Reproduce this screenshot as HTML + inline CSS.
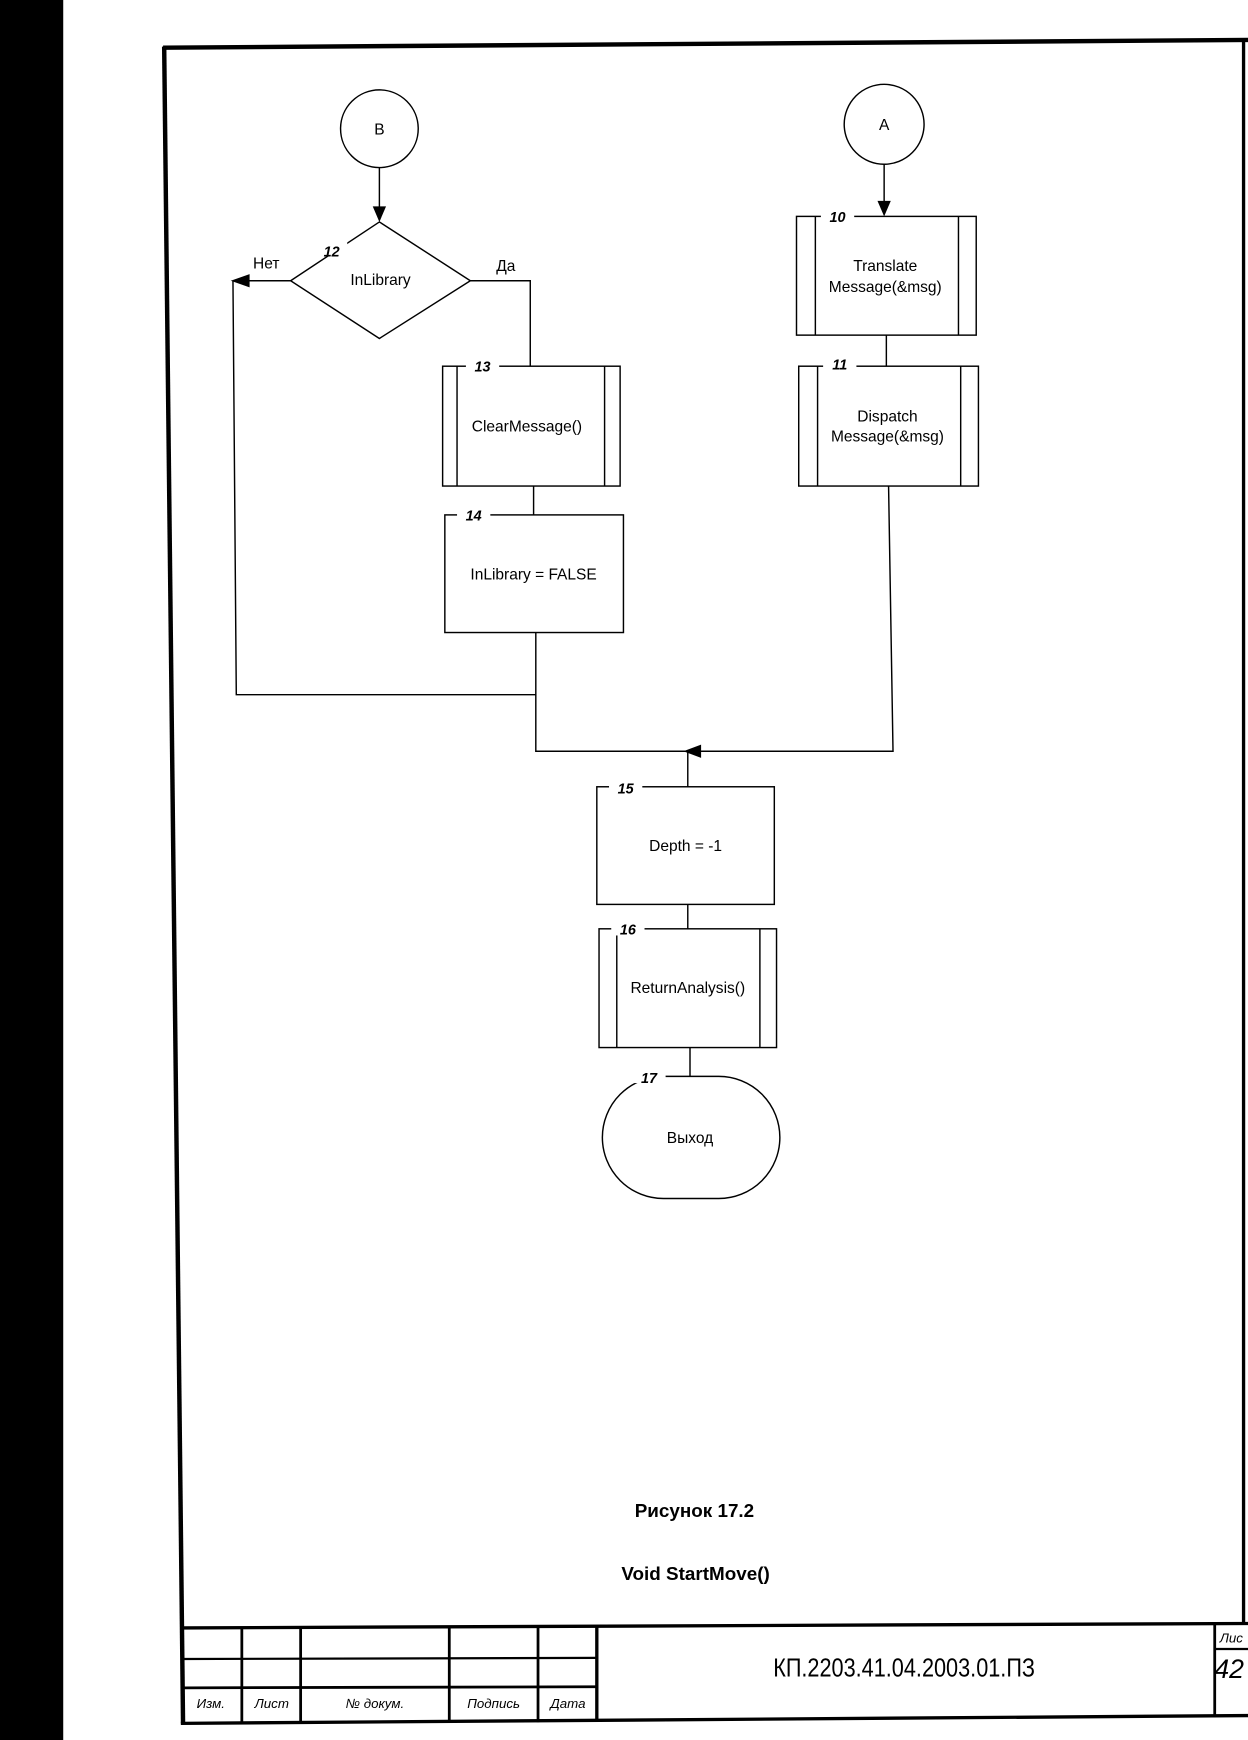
<!DOCTYPE html>
<html><head><meta charset="utf-8"><style>
html,body{margin:0;padding:0;background:#fff;}
svg{display:block;}
text{font-family:"Liberation Sans",sans-serif;fill:#000;}
.l{font-size:14px;text-anchor:middle;}
.n{font-size:13px;font-weight:bold;font-style:italic;text-anchor:middle;}
.t{font-size:12px;font-style:italic;text-anchor:middle;}
</style></head><body>
<svg width="1248" height="1740" viewBox="0 0 1125 1568" preserveAspectRatio="none" xmlns="http://www.w3.org/2000/svg">
<rect x="0" y="0" width="1125" height="1568" fill="#fff"/>
<rect x="0" y="0" width="57" height="1568" fill="#000"/>
<!-- frame -->
<g stroke="#000" fill="none">
<line x1="147" y1="43" x2="1125" y2="36" stroke-width="4"/>
<line x1="148" y1="42" x2="165" y2="1553" stroke-width="4"/>
<line x1="1121" y1="36" x2="1121" y2="1462" stroke-width="3"/>
<line x1="163" y1="1553" x2="1125" y2="1546" stroke-width="3"/>
<line x1="163" y1="1467" x2="1125" y2="1463" stroke-width="3"/>
<line x1="165" y1="1495" x2="538" y2="1494" stroke-width="2"/>
<line x1="165" y1="1521" x2="538" y2="1520" stroke-width="2.5"/>
<line x1="218" y1="1467" x2="218" y2="1552" stroke-width="2.5"/>
<line x1="271" y1="1467" x2="271" y2="1552" stroke-width="2.5"/>
<line x1="405" y1="1467" x2="405" y2="1552" stroke-width="2.5"/>
<line x1="485" y1="1467" x2="485" y2="1552" stroke-width="2.5"/>
<line x1="538" y1="1466" x2="538" y2="1551" stroke-width="3"/>
<line x1="1095" y1="1463" x2="1095" y2="1547" stroke-width="2.5"/>
<line x1="1095" y1="1486" x2="1125" y2="1486" stroke-width="2"/>
</g>
<text x="815" y="1511" style="font-size:23px" text-anchor="middle" transform="translate(815 0) scale(0.85 1) translate(-815 0)">КП.2203.41.04.2003.01.ПЗ</text>
<text x="1110" y="1480" class="t">Лис</text>
<text x="1108" y="1512" style="font-size:24px;font-style:italic" text-anchor="middle">42</text>
<text x="190" y="1539" class="t">Изм.</text>
<text x="245" y="1539" class="t">Лист</text>
<text x="338" y="1539" class="t">№ докум.</text>
<text x="445" y="1539" class="t">Подпись</text>
<text x="512" y="1539" class="t">Дата</text>

<g stroke="#000" stroke-width="1.3" fill="none">
<circle cx="342" cy="116" r="35"/>
<circle cx="797" cy="112" r="36"/>
<line x1="342" y1="151" x2="342" y2="190"/>
<polygon points="262,253 342,200 424,253 342,305"/>
<line x1="262" y1="253" x2="220" y2="253"/>
<polyline points="210,253 213,626 483,626"/>
<polyline points="424,253 478,253 478,330"/>
<rect x="399" y="330" width="160" height="108"/>
<line x1="412" y1="330" x2="412" y2="438"/><line x1="545" y1="330" x2="545" y2="438"/>
<line x1="481" y1="438" x2="481" y2="464"/>
<rect x="401" y="464" width="161" height="106"/>
<polyline points="483,570 483,677 625,677"/>
<polyline points="801,438 805,677 630,677"/>
<line x1="620" y1="677" x2="620" y2="709"/>
<line x1="797" y1="148" x2="797" y2="183"/>
<rect x="718" y="195" width="162" height="107"/>
<line x1="735" y1="195" x2="735" y2="302"/><line x1="864" y1="195" x2="864" y2="302"/>
<line x1="799" y1="302" x2="799" y2="330"/>
<rect x="720" y="330" width="162" height="108"/>
<line x1="737" y1="330" x2="737" y2="438"/><line x1="866" y1="330" x2="866" y2="438"/>
<rect x="538" y="709" width="160" height="106"/>
<line x1="620" y1="815" x2="620" y2="837"/>
<rect x="540" y="837" width="160" height="107"/>
<line x1="556" y1="837" x2="556" y2="944"/><line x1="685" y1="837" x2="685" y2="944"/>
<line x1="622" y1="944" x2="622" y2="970"/>
<rect x="543" y="970" width="160" height="110" rx="55" ry="55"/>
</g>
<g fill="#000">
<polygon points="336,186 348,186 342,200"/>
<polygon points="791,181 803,181 797,195"/>
<polygon points="208,253 225,247 225,259"/>
<polygon points="616,677 632,671 632,683"/>
</g>
<!-- number label gaps -->
<g fill="#fff">
<rect x="285" y="215" width="28" height="16"/>
<rect x="420" y="324" width="30" height="12"/>
<rect x="412" y="458" width="30" height="12"/>
<rect x="740" y="189" width="30" height="12"/>
<rect x="742" y="322" width="30" height="12"/>
<rect x="549" y="703" width="30" height="12"/>
<rect x="551" y="831" width="30" height="12"/>
<rect x="570" y="964" width="30" height="12"/>
</g>
<text x="342" y="121" class="l">B</text>
<text x="797" y="117" class="l">A</text>
<text x="299" y="231" class="n">12</text>
<text x="343" y="257" class="l">InLibrary</text>
<text x="240" y="242" class="l">Нет</text>
<text x="456" y="244" class="l">Да</text>
<text x="435" y="335" class="n">13</text>
<text x="475" y="389" class="l">ClearMessage()</text>
<text x="427" y="469" class="n">14</text>
<text x="481" y="522" class="l">InLibrary = FALSE</text>
<text x="755" y="200" class="n">10</text>
<text x="798" y="244" class="l">Translate</text>
<text x="798" y="263" class="l">Message(&amp;msg)</text>
<text x="757" y="333" class="n">11</text>
<text x="800" y="380" class="l">Dispatch</text>
<text x="800" y="398" class="l">Message(&amp;msg)</text>
<text x="564" y="715" class="n">15</text>
<text x="618" y="767" class="l">Depth = -1</text>
<text x="566" y="842" class="n">16</text>
<text x="620" y="895" class="l">ReturnAnalysis()</text>
<text x="585" y="976" class="n">17</text>
<text x="622" y="1030" class="l">Выход</text>
<text x="626" y="1367" style="font-size:17px;font-weight:bold" text-anchor="middle">Рисунок 17.2</text>
<text x="627" y="1424" style="font-size:17px;font-weight:bold" text-anchor="middle">Void StartMove()</text>
</svg>
</body></html>
